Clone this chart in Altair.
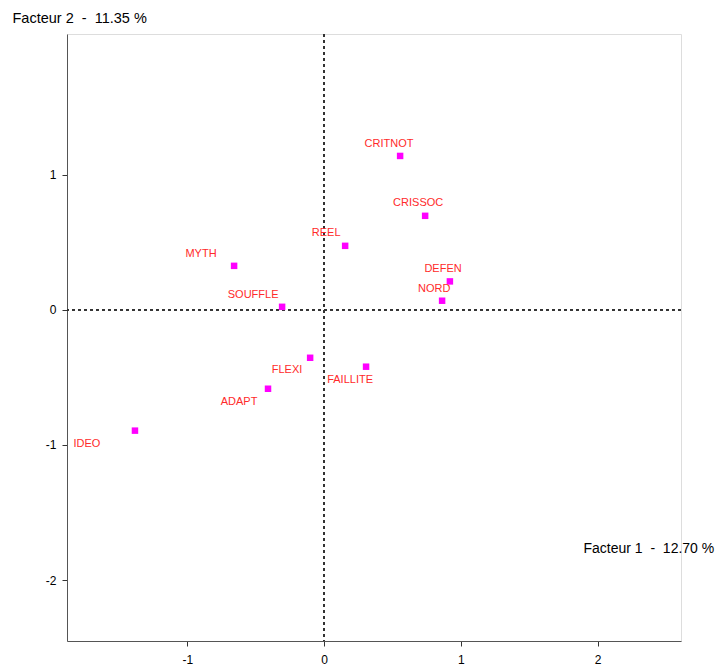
import altair as alt
import pandas as pd

names = ["CRITNOT", "CRISSOC", "REEL", "MYTH", "SOUFFLE", "DEFEN", "NORD",
         "FLEXI", "FAILLITE", "ADAPT", "IDEO"]
f1 = [0.556, 0.739, 0.154, -0.658, -0.307, 0.920, 0.863, -0.102, 0.307, -0.410, -1.383]
f2 = [1.138, 0.695, 0.473, 0.325, 0.022, 0.210, 0.067, -0.355, -0.421, -0.584, -0.894]
# label anchor positions (data units)
lab_x = [0.475, 0.688, 0.015, -0.900, -0.519, 0.870, 0.805, -0.271, 0.190, -0.622, -1.734]
lab_y = [1.227, 0.791, 0.569, 0.414, 0.111, 0.303, 0.155, -0.443, -0.517, -0.680, -0.990]

df = pd.DataFrame({"name": names, "f1": f1, "f2": f2, "lx": lab_x, "ly": lab_y})

xdom = [-1.88, 2.61]
ydom = [-2.45, 2.04]
FONT = "Liberation Sans"

xscale = alt.Scale(domain=xdom, nice=False, zero=False)
yscale = alt.Scale(domain=ydom, nice=False, zero=False)

xaxis = alt.Axis(
    values=[-1, 0, 1, 2], grid=False, tickSize=5, tickColor="#333333",
    domainColor="#555555", labelFont=FONT, labelFontSize=12, labelColor="#000000",
    labelPadding=8, labelExpr="toString(datum.value)",
    title="Facteur 1\u00a0\u00a0-\u00a0\u00a012.70 %", titleFont=FONT, titleFontSize=14,
    titleFontWeight="normal", titleColor="#000000", titleAlign="left",
    titleBaseline="middle", titleX=516, titleY=-93, titleAnchor="start",
)
yaxis = alt.Axis(
    values=[-2, -1, 0, 1], grid=False, tickSize=5, tickColor="#333333",
    domainColor="#555555", labelFont=FONT, labelFontSize=12, labelColor="#000000",
    labelPadding=6, labelExpr="toString(datum.value)",
    title="Facteur 2\u00a0\u00a0-\u00a0\u00a011.35 %", titleFont=FONT, titleFontSize=14.5,
    titleFontWeight="normal", titleColor="#000000", titleAngle=0, titleAlign="left",
    titleBaseline="middle", titleX=-55, titleY=-16, titleAnchor="start",
)

base = alt.Chart(df)

points = base.mark_square(size=42, color="#ff00ff", opacity=1).encode(
    x=alt.X("f1:Q", scale=xscale, axis=xaxis),
    y=alt.Y("f2:Q", scale=yscale, axis=yaxis),
)

labels = base.mark_text(font=FONT, fontSize=11, color="#ff2a2a",
                        align="center", baseline="middle").encode(
    x=alt.X("lx:Q", scale=xscale),
    y=alt.Y("ly:Q", scale=yscale),
    text="name:N",
)

vrule = alt.Chart(df).mark_rule(color="#333333", strokeDash=[3, 3], strokeWidth=1).encode(
    x=alt.datum(0, scale=xscale)
)
hrule = alt.Chart(df).mark_rule(color="#333333", strokeDash=[3, 3], strokeWidth=1).encode(
    y=alt.datum(0, scale=yscale)
)

chart = alt.layer(vrule, hrule, points, labels).properties(
    width=614, height=607,
    autosize=alt.AutoSizeParams(type="none"),
    padding={"left": 59, "top": 26, "right": 34, "bottom": 25},
).configure_view(stroke="#555555", strokeWidth=1.5).configure(background="white")

chart.save("out.html", embed_options={"renderer": "svg", "actions": False})
